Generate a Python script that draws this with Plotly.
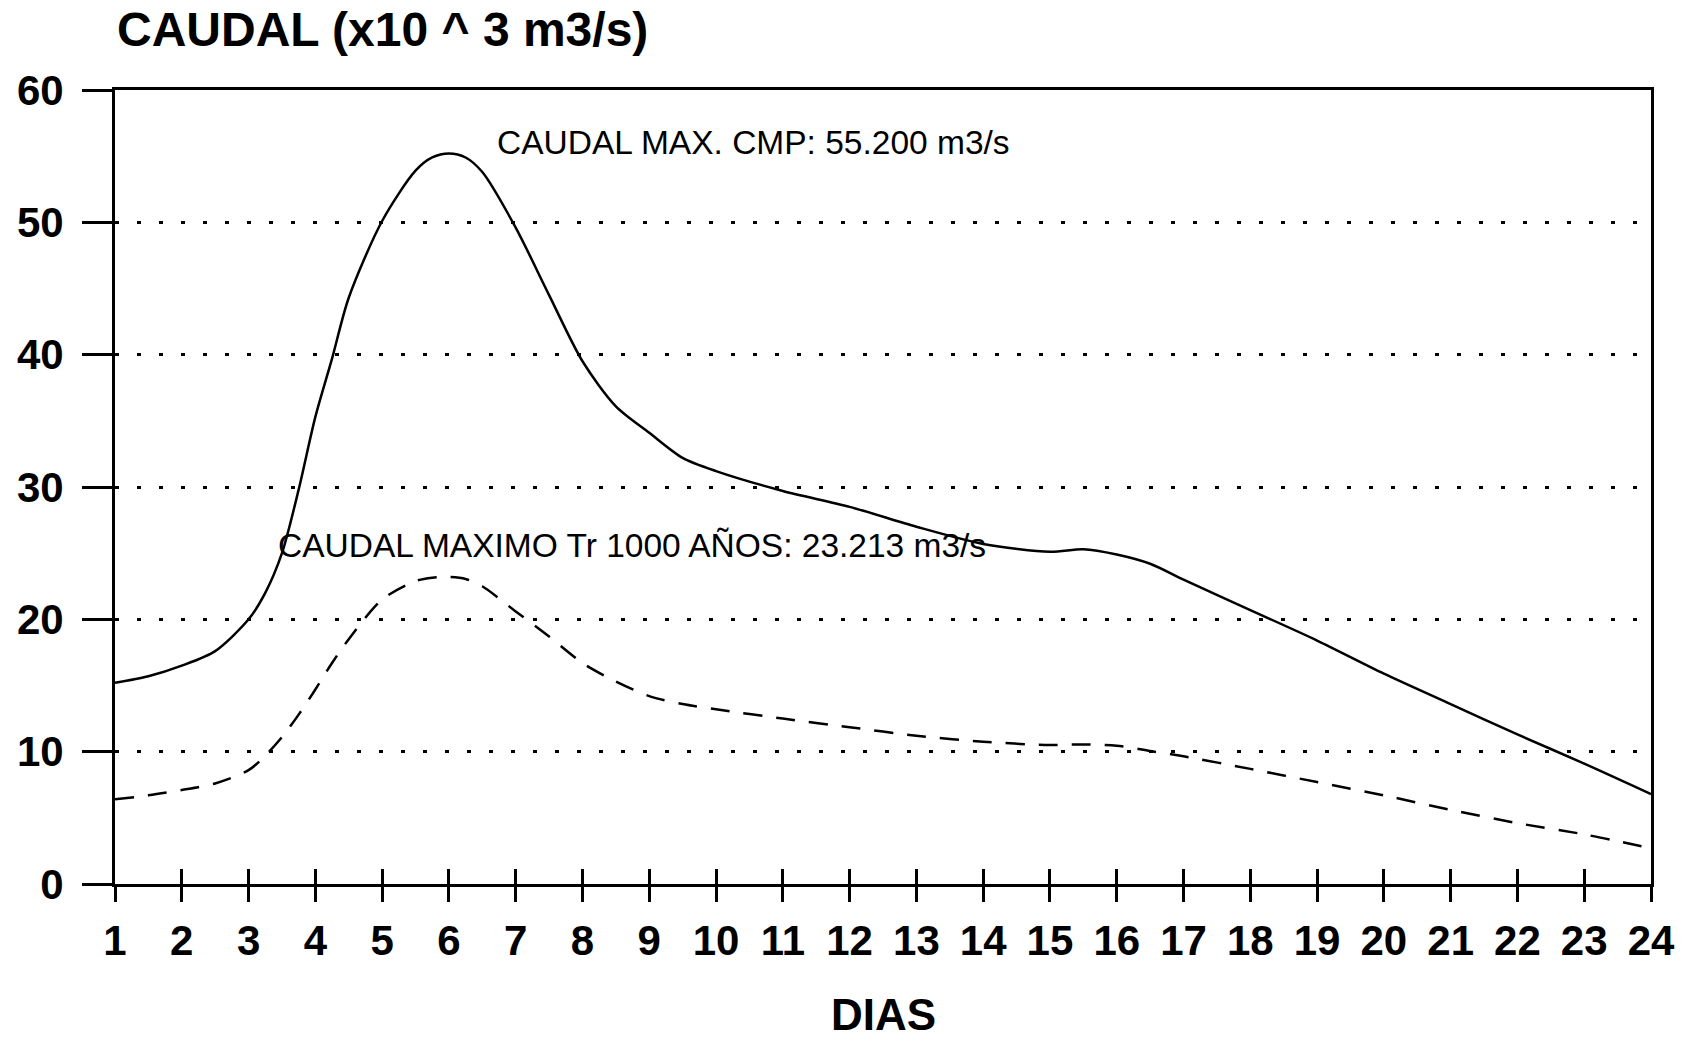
import plotly.graph_objects as go

# ---- data ----
days = [1, 1.5, 2, 2.5, 3, 3.25, 3.5, 3.75, 4, 4.25, 4.5, 5, 5.5, 5.75, 6, 6.25, 6.5, 7, 7.5, 8,
        8.5, 9, 9.5, 10, 11, 12, 13, 14, 15, 15.5, 16, 16.5, 17, 18, 19, 20, 21, 22, 23, 24]

caudal_cmp = [15.2, 15.7, 16.5, 17.6, 20.0, 22.0, 25.0, 29.8, 35.3, 39.7, 44.3, 50.1, 53.9,
              54.9, 55.2, 54.9, 53.8, 49.6, 44.5, 39.5, 36.1, 34.1, 32.2, 31.2, 29.7, 28.5,
              27.0, 25.7, 25.1, 25.3, 24.9, 24.2, 23.0, 20.7, 18.4, 15.9, 13.6, 11.3, 9.1, 6.8]

caudal_tr1000 = [6.4, 6.7, 7.1, 7.6, 8.6, 9.7, 11.1, 12.8, 14.7, 16.7, 18.5, 21.5, 22.9,
                 23.15, 23.2, 23.05, 22.5, 20.6, 18.7, 16.7, 15.3, 14.2, 13.6, 13.2, 12.5,
                 11.85, 11.2, 10.75, 10.5, 10.55, 10.45, 10.05, 9.65, 8.7, 7.7, 6.7, 5.6,
                 4.6, 3.75, 2.7]

x_ticks = list(range(1, 25))
x_tick_labels = [str(d) for d in x_ticks]
y_ticks = [0, 10, 20, 30, 40, 50, 60]
y_tick_labels = [str(v) for v in y_ticks]

title_text = "CAUDAL (x10 ^ 3 m3/s)"
x_title = "DIAS"
label_cmp = "CAUDAL MAX. CMP: 55.200 m3/s"
label_tr = "CAUDAL MAXIMO Tr 1000 AÑOS: 23.213 m3/s"

FONT = "Liberation Sans, Arial, Helvetica, sans-serif"

fig = go.Figure()
fig.add_trace(go.Scatter(
    x=days, y=caudal_cmp, mode="lines",
    line=dict(color="black", width=2.5, shape="spline", smoothing=0.8),
    showlegend=False, hoverinfo="skip"))
fig.add_trace(go.Scatter(
    x=days, y=caudal_tr1000, mode="lines", xaxis="x2",
    line=dict(color="black", width=2.5, dash="19px,14px", shape="spline", smoothing=0.8),
    showlegend=False, hoverinfo="skip"))

fig.update_layout(
    width=1686, height=1044,
    margin=dict(l=115, r=35, t=90, b=160),
    paper_bgcolor="white", plot_bgcolor="white",
    font=dict(family=FONT, color="black"),
    xaxis=dict(
        range=[1, 24], tickvals=x_ticks, ticktext=x_tick_labels,
        ticks="outside", ticklen=15, tickwidth=2.5, tickcolor="black",
        tickfont=dict(family=FONT, size=42, weight="bold", color="black"),
        ticklabelstandoff=3,
        showline=True, linewidth=3, linecolor="black", mirror=True,
        showgrid=False, zeroline=False),
    xaxis2=dict(
        range=[1, 24], matches="x", overlaying="x", anchor="y", side="bottom",
        tickvals=x_ticks, ticks="inside", ticklen=15, tickwidth=2.5, tickcolor="black",
        showticklabels=False, showline=False, showgrid=False, zeroline=False),
    yaxis=dict(
        range=[0, 60], tickvals=y_ticks, ticktext=y_tick_labels,
        ticks="outside", ticklen=30, tickwidth=2.5, tickcolor="black",
        tickfont=dict(family=FONT, size=42, weight="bold", color="black"),
        ticklabelstandoff=10,
        showline=True, linewidth=3, linecolor="black", mirror=True,
        showgrid=True, gridcolor="black", gridwidth=3, griddash="4px,18px",
        zeroline=False),
)

fig.add_annotation(text=title_text, xref="paper", yref="paper", x=0.0, y=1.0756,
                   xanchor="left", yanchor="middle", showarrow=False,
                   font=dict(family=FONT, size=48, weight="bold", color="black"))
fig.add_annotation(text=x_title, xref="paper", yref="paper", x=0.5, y=-0.196,
                   xanchor="center", yanchor="bottom", showarrow=False, borderpad=0,
                   font=dict(family=FONT, size=44, weight="bold", color="black"))
fig.add_annotation(text=label_cmp, xref="x", yref="y", x=6.69, y=56.0,
                   xanchor="left", yanchor="middle", showarrow=False,
                   font=dict(family=FONT, size=33.5, color="black"))
fig.add_annotation(text=label_tr, xref="x", yref="y", x=3.41, y=25.6,
                   xanchor="left", yanchor="middle", showarrow=False,
                   font=dict(family=FONT, size=33.5, color="black"))

fig.write_html("out.html")
